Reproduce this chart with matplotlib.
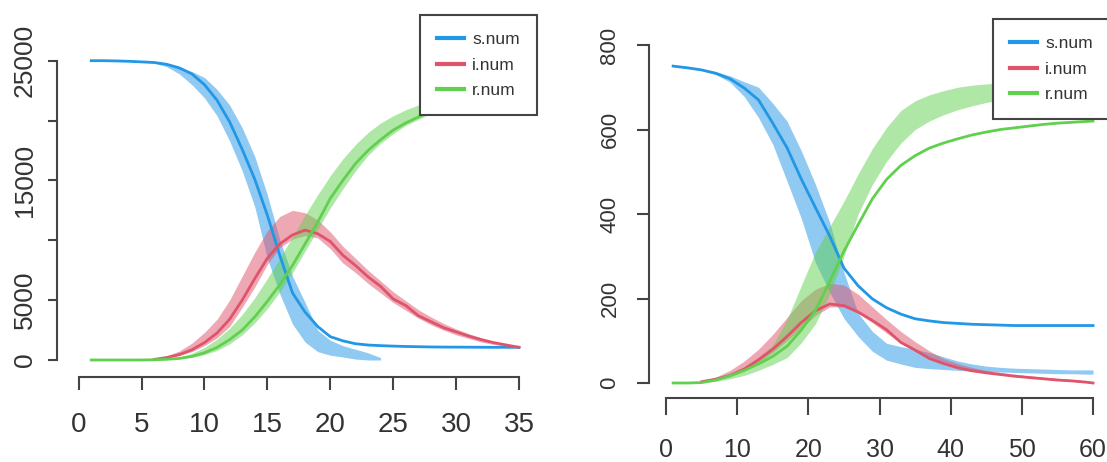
import matplotlib.pyplot as plt
from matplotlib.lines import Line2D

# ---------------- left panel (days 1..35) ----------------
left_t = list(range(1, 36))
left_s_mean = [25000, 25000, 24980, 24950, 24900, 24850, 24700, 24400, 23900, 23000,
               21700, 19900, 17600, 15100, 12100, 8700, 5600, 4000, 2800, 1950,
               1600, 1360, 1250, 1200, 1160, 1130, 1110, 1090, 1080, 1075,
               1070, 1065, 1060, 1060, 1060]
left_s_band_t = list(range(1, 25))
left_s_lo = [25000, 25000, 24980, 24950, 24880, 24800, 24500, 23900, 23000, 21900,
             20400, 18300, 15800, 12800, 8500, 5500, 3000, 1500, 700, 400,
             250, 80, 0, 0]
left_s_hi = [25000, 25000, 24980, 24950, 24920, 24880, 24720, 24450, 24100, 23600,
             22600, 21300, 19400, 17000, 13800, 10000, 7000, 4800, 2500, 1650,
             1200, 900, 600, 200]

left_i_t = list(range(6, 36))
left_i_mean = [50, 200, 450, 850, 1450, 2250, 3400, 5000, 6800, 8500,
               9700, 10450, 10850, 10550, 9900, 8750, 7900, 6950, 6150, 5100,
               4550, 3700, 3200, 2700, 2350, 2000, 1700, 1450, 1250, 1060]
left_i_lo = [30, 150, 380, 700, 1200, 1850, 2800, 4400, 6100, 8000,
             9400, 10100, 10400, 10200, 9300, 8100, 7300, 6400, 5600, 4800,
             4150, 3500, 2950, 2500, 2100, 1800, 1500, 1300, 1150, 1000]
left_i_hi = [80, 350, 750, 1400, 2300, 3400, 5000, 7000, 9000, 10800,
             12000, 12500, 12300, 11700, 10700, 9500, 8500, 7500, 6600, 5700,
             4950, 4200, 3600, 3050, 2600, 2200, 1850, 1550, 1300, 1100]

left_r_mean = [0, 0, 0, 0, 0, 20, 60, 130, 300, 600,
               1050, 1700, 2500, 3600, 4900, 6300, 7900, 9700, 11500, 13500,
               15000, 16400, 17500, 18400, 19200, 19800, 20300, 20750, 21150, 21500,
               21850, 22150, 22400, 22650, 22850]
left_r_lo = [0, 0, 0, 0, 0, 10, 40, 100, 220, 450,
             800, 1350, 2100, 3100, 4300, 5700, 7300, 9100, 10900, 12700,
             14300, 15800, 17100, 18100, 18900, 19600, 20100, 20600, 21000, 21400,
             21750, 22050, 22300, 22550, 22750]
left_r_hi = [0, 0, 0, 0, 0, 40, 110, 250, 550, 1050,
             1750, 2650, 3800, 5200, 6800, 8500, 10300, 12100, 13800, 15400,
             16800, 18000, 19000, 19800, 20400, 20900, 21300, 21700, 22100, 22400,
             22700, 23000, 23300, 23500, 23700]

# ---------------- right panel (days 1..60) ----------------
right_t = [1, 3, 5, 7, 9, 11, 13, 15, 17, 19, 21, 23, 25, 27, 29, 31,
           33, 35, 37, 39, 41, 43, 45, 47, 49, 51, 53, 55, 57, 59, 60]
right_s_mean = [750, 746, 741, 733, 720, 698, 670, 615, 557, 483, 415, 348, 272, 230, 199, 178,
                163, 152, 147, 143, 141, 139, 138, 137, 136, 136, 136, 136, 136, 136, 136]
right_s_lo = [750, 746, 740, 730, 712, 678, 628, 565, 478, 390, 285, 215, 153, 110, 75, 54,
              45, 37, 34, 32, 30, 28, 27, 26, 25, 24, 23, 22, 22, 21, 21]
right_s_hi = [750, 747, 743, 737, 727, 713, 700, 662, 620, 550, 470, 380, 262, 165, 122, 94,
              86, 80, 72, 62, 52, 45, 40, 37, 35, 34, 33, 32, 31, 31, 31]

right_i_t = [5, 7, 9, 11, 13, 15, 17, 19, 21, 23, 25, 27, 29, 31, 33,
             35, 37, 39, 41, 43, 45, 47, 49, 51, 53, 55, 57, 59, 60]
right_i_mean = [3, 9, 18, 33, 55, 80, 110, 143, 171, 187, 183, 168, 148, 126, 96,
                78, 58, 46, 36, 29, 24, 20, 16, 13, 10, 7, 5, 2, 0]
right_i_lo = [2, 7, 15, 28, 48, 72, 100, 130, 160, 180, 180, 165, 143, 118, 95,
              75, 58, 45, 36, 29, 24, 20, 16, 13, 10, 7, 5, 2, 0]
right_i_hi = [4, 14, 30, 52, 80, 115, 155, 195, 222, 236, 232, 210, 180, 150, 122,
              98, 76, 58, 46, 37, 30, 25, 21, 17, 14, 11, 8, 5, 3]

right_r_mean = [0, 0, 1, 7, 17, 30, 45, 63, 87, 125, 172, 240, 312, 375, 436, 482,
                515, 538, 556, 568, 578, 587, 594, 600, 604, 608, 612, 615, 617, 619, 620]
right_r_lo = [0, 0, 1, 4, 10, 18, 30, 44, 60, 95, 140, 210, 300, 400, 470, 525,
              568, 600, 620, 635, 647, 656, 664, 670, 675, 680, 684, 687, 690, 692, 693]
right_r_hi = [0, 1, 3, 10, 22, 38, 60, 90, 150, 230, 310, 370, 430, 495, 555, 605,
              645, 668, 682, 692, 700, 705, 708, 710, 712, 714, 716, 718, 720, 721, 722]

labels = ['s.num', 'i.num', 'r.num']
colors = ['#2297E6', '#DF536B', '#61D04F']

plt.rcParams['font.family'] = ['Liberation Sans', 'DejaVu Sans']
AXCOL = '#444444'

fig = plt.figure(figsize=(11.07, 4.62), dpi=100)


def px_axes(left, right, top, bottom):
    W, H = 1107, 462
    return fig.add_axes([left / W, (H - bottom) / H, (right - left) / W, (bottom - top) / H])


def draw(ax, bands, lines):
    for (bt, lo, hi), c in zip(bands, colors):
        ax.fill_between(bt, lo, hi, color=c, alpha=0.5, lw=0)
    for (lt, m), c in zip(lines, colors):
        ax.plot(lt, m, color=c, lw=2.0)


def style(ax, xmax, ymax, xticks, yticks, yticklabels, xfs, yfs, xlen, ylen, xpad, ypad):
    for s in ['top', 'right']:
        ax.spines[s].set_visible(False)
    for s in ['left', 'bottom']:
        ax.spines[s].set_color(AXCOL)
        ax.spines[s].set_linewidth(1.5)
    ax.spines['left'].set_bounds(0, ymax)
    ax.spines['bottom'].set_bounds(0, xmax)
    ax.set_xticks(xticks)
    ax.set_yticks(yticks)
    ax.set_yticklabels(yticklabels)
    ax.tick_params(axis='x', length=xlen, width=1.5, color=AXCOL, labelsize=xfs,
                   pad=xpad, labelcolor='#333333')
    ax.tick_params(axis='y', length=ylen, width=1.5, color=AXCOL, labelsize=yfs,
                   pad=ypad, labelcolor='#333333')
    for lbl in ax.get_yticklabels():
        lbl.set_rotation(90)
        lbl.set_va('center')
    handles = [Line2D([], [], color=c, lw=3) for c in colors]
    leg = ax.legend(handles, labels, loc='upper right', bbox_to_anchor=(1, 1),
                    borderaxespad=0, fancybox=False, framealpha=1, edgecolor=AXCOL,
                    fontsize=12.5, handlelength=1.55, handletextpad=0.5,
                    borderpad=0.98, labelspacing=0.6)
    leg.get_frame().set_linewidth(1.5)
    for txt in leg.get_texts():
        txt.set_color('#333333')
    leg.set_zorder(10)


# left panel: x 0 -> px 78.6, 35 -> px 519 ; y 0 -> px 360, 25000 -> px 60.7
axL = px_axes(57, 537, 15, 377)
axL.set_xlim((57 - 78.6) / 12.583, (537 - 78.6) / 12.583)
axL.set_ylim((360 - 377) / 0.011972, (360 - 15) / 0.011972)
draw(axL,
     [(left_s_band_t, left_s_lo, left_s_hi), (left_i_t, left_i_lo, left_i_hi),
      (left_t, left_r_lo, left_r_hi)],
     [(left_t, left_s_mean), (left_i_t, left_i_mean), (left_t, left_r_mean)])
style(axL, 35, 25000, list(range(0, 36, 5)), [0, 5000, 10000, 15000, 20000, 25000],
      ['0', '5000', '', '15000', '', '25000'], 20, 19, 9.4, 6.5, 16, 8)

# right panel: x 0 -> px 666, 60 -> px 1093 ; y 0 -> px 383, 800 -> px 45
axR = px_axes(649, 1110, 19, 398)
axR.set_xlim((649 - 666) / 7.117, (1110 - 666) / 7.117)
axR.set_ylim((383 - 398) / 0.4225, (383 - 19) / 0.4225)
draw(axR,
     [(right_t, right_s_lo, right_s_hi), (right_i_t, right_i_lo, right_i_hi),
      (right_t, right_r_lo, right_r_hi)],
     [(right_t, right_s_mean), (right_i_t, right_i_mean), (right_t, right_r_mean)])
style(axR, 60, 800, list(range(0, 61, 10)), [0, 200, 400, 600, 800],
      ['0', '200', '400', '600', '800'], 18, 16, 12, 8.6, 17, 12)

fig.savefig('out.png', dpi=100)
